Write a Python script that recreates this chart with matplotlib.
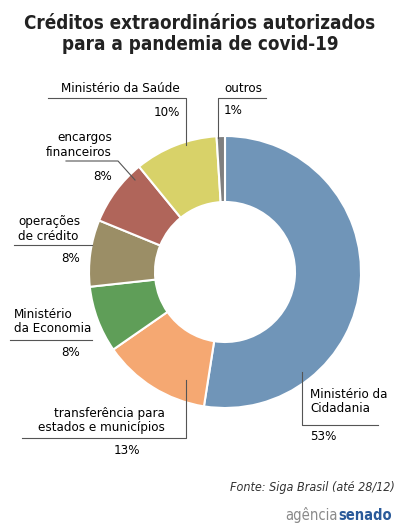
import matplotlib
matplotlib.use("Agg")
import matplotlib.pyplot as plt

plt.rcParams['font.family'] = ['DejaVu Sans']
plt.rcParams['font.stretch'] = 'condensed'

labels = ["Ministério da\nCidadania", "transferência para\nestados e municípios", "Ministério\nda Economia",
          "operações\nde crédito", "encargos\nfinanceiros", "Ministério da Saúde", "outros"]
values = [53, 13, 8, 8, 8, 10, 1]
pcts = ["53%", "13%", "8%", "8%", "8%", "10%", "1%"]
colors = ["#7095b8", "#f5a872", "#5f9e58", "#9b8e66", "#b0655a", "#d8d269", "#7f7f7f"]

H = 526
fig = plt.figure(figsize=(4, 5.26), dpi=100)
ax = fig.add_axes([0, 0, 1, 1])

ax.pie(values, colors=colors, startangle=90, counterclock=False, center=(225, H-272), radius=136,
       wedgeprops=dict(width=66, edgecolor='white', linewidth=1.5), frame=True)
ax.set_xlim(0, 400); ax.set_ylim(0, H); ax.set_aspect('equal'); ax.axis('off')

def y(v): return H - v
lc = '#555555'
fs = 9.5
ax.text(200, y(34), "Créditos extraordinários autorizados\npara a pandemia de covid-19", ha='center', va='center',
        fontsize=13.5, fontweight='bold', color='#222222', linespacing=1.1)

def seg(pts):
    ax.plot([p[0] for p in pts], [y(p[1]) for p in pts], color=lc, lw=0.8)

ax.text(310, y(402), labels[0], ha='left', va='center', fontsize=fs, linespacing=1.1)
ax.text(310, y(437), pcts[0], ha='left', va='center', fontsize=fs)
seg([(302, 372), (302, 425), (378, 425)])
ax.text(165, y(420), labels[1], ha='right', va='center', fontsize=fs, linespacing=1.1)
ax.text(140, y(450), pcts[1], ha='right', va='center', fontsize=fs)
seg([(186, 380), (186, 438), (22, 438)])
ax.text(14, y(322), labels[2], ha='left', va='center', fontsize=fs, linespacing=1.1)
ax.text(80, y(353), pcts[2], ha='right', va='center', fontsize=fs)
seg([(10, 340), (92, 340)])
ax.text(18, y(229), labels[3], ha='left', va='center', fontsize=fs, linespacing=1.1)
ax.text(80, y(258), pcts[3], ha='right', va='center', fontsize=fs)
seg([(14, 245), (92, 245)])
ax.text(112, y(145), labels[4], ha='right', va='center', fontsize=fs, linespacing=1.1)
ax.text(112, y(177), pcts[4], ha='right', va='center', fontsize=fs)
seg([(66, 161), (118, 161), (135, 180)])
ax.text(180, y(88), labels[5], ha='right', va='center', fontsize=fs)
ax.text(180, y(113), pcts[5], ha='right', va='center', fontsize=fs)
seg([(48, 98), (186, 98), (186, 145)])
ax.text(224, y(88), labels[6], ha='left', va='center', fontsize=fs)
ax.text(224, y(110), pcts[6], ha='left', va='center', fontsize=fs)
seg([(266, 98), (218, 98), (218, 138)])

ax.text(395, y(488), "Fonte: Siga Brasil (até 28/12)", ha='right', va='center', fontsize=9, style='italic', color='#333333')
ax.text(338, y(515), "agência", ha='right', va='center', fontsize=10.5, color='#8a8a8a')
ax.text(338, y(515), "senado", ha='left', va='center', fontsize=10.5, color='#2a5a9a', fontweight='bold')

fig.savefig("out.png", dpi=100, facecolor='white')
